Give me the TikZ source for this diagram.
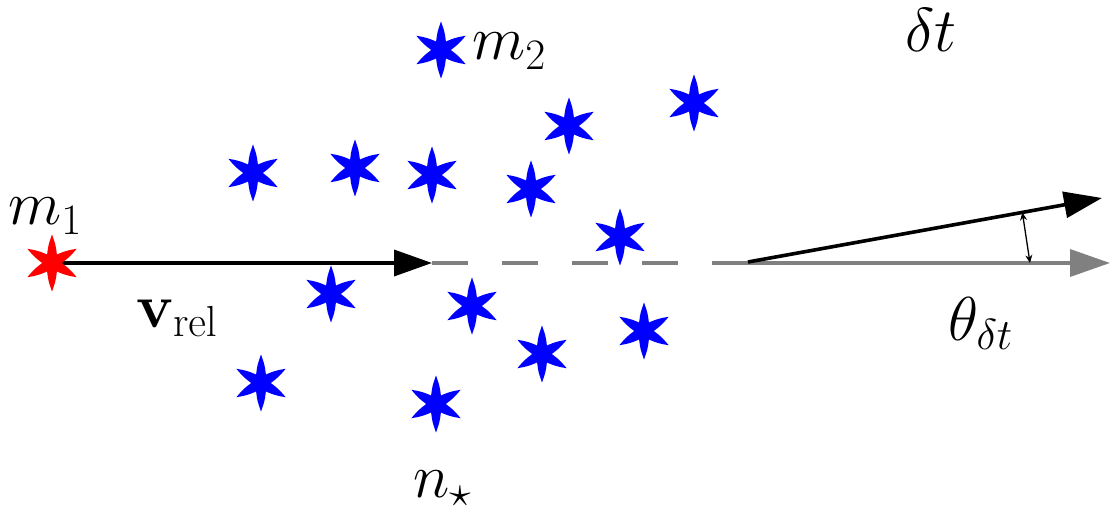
\documentclass[tikz,border=0pt]{standalone}
\usepackage{fix-cm}
\usetikzlibrary{arrows.meta,calc}
\tikzset{
  pics/sixstar/.style={code={
    \path[pic actions] (90:28.5) .. controls (78.87:18.65) .. (60:9.81)
      .. controls (41.13:18.65) .. (30:28.5) .. controls (18.87:18.65) .. (0:9.81)
      .. controls (-18.87:18.65) .. (-30:28.5) .. controls (-41.13:18.65) .. (-60:9.81)
      .. controls (-78.87:18.65) .. (-90:28.5) .. controls (-101.13:18.65) .. (-120:9.81)
      .. controls (-138.87:18.65) .. (-150:28.5) .. controls (-161.13:18.65) .. (-180:9.81)
      .. controls (-198.87:18.65) .. (-210:28.5) .. controls (-221.13:18.65) .. (-240:9.81)
      .. controls (-258.87:18.65) .. (-270:28.5) -- cycle;
  }},
  lab/.style={inner sep=0pt, anchor=base west, font=\fontsize{62}{70}\selectfont},
  mainarrow/.style={line width=3.6pt, -{Triangle[length=38pt,width=26pt]}},
  grayline/.style={line width=3.6pt, color=gray},
  smallarrow/.style={line width=1.3pt, {Stealth[length=8pt,width=7pt]}-{Stealth[length=8pt,width=7pt]}}
}
\begin{document}
\begin{tikzpicture}[x=1pt,y=-1pt]
\useasboundingbox (0,0) rectangle (1116,529);
% coordinates
\coordinate (m1) at (52,263);
\coordinate (vtip) at (432,263);
\coordinate (g0) at (713,263);
\coordinate (gend) at (1110,263);
\coordinate (tstart) at (748,262);
\coordinate (tend) at (1102,198);
\coordinate (d1) at ($(tstart)!0.775!(tend)$);
\coordinate (d2) at (1030,263);
% lines
\draw[mainarrow] (m1) -- (vtip);
\draw[grayline, dash pattern=on 36pt off 34pt] (vtip) -- (g0);
\draw[grayline, -{Triangle[length=40pt,width=27pt]}] (g0) -- (gend);
\draw[mainarrow] (tstart) -- (tend);
\draw[smallarrow] (d1) -- (d2);
% stars
\pic[fill=red] at (m1) {sixstar};
\foreach \n/\x/\y in {s1/441/50, s2/694/103, s3/569/126, s4/253/173, s5/355/168,
  s6/432/175, s7/531/189, s8/620/237, s9/331/294, s10/472/306, s11/644/331,
  s12/542/354, s13/261/383, s14/436/404}{
  \coordinate (\n) at (\x,\y);
  \pic[fill=blue] at (\n) {sixstar};
}
% labels
\node[lab] (lm1) at (8,225) {$m_1$};
\node[lab] (lm2) at (472,60) {$m_2$};
\node[lab] (ldt) at (905,52) {$\delta t$};
\node[lab] (lv) at (136,327) {$\mathbf{v}_{\mathrm{rel}}$};
\node[lab] (lth) at (948,340) {$\theta_{\delta t}$};
\node[lab] (ln) at (413,497) {$n_\star$};
\end{tikzpicture}
\end{document}
